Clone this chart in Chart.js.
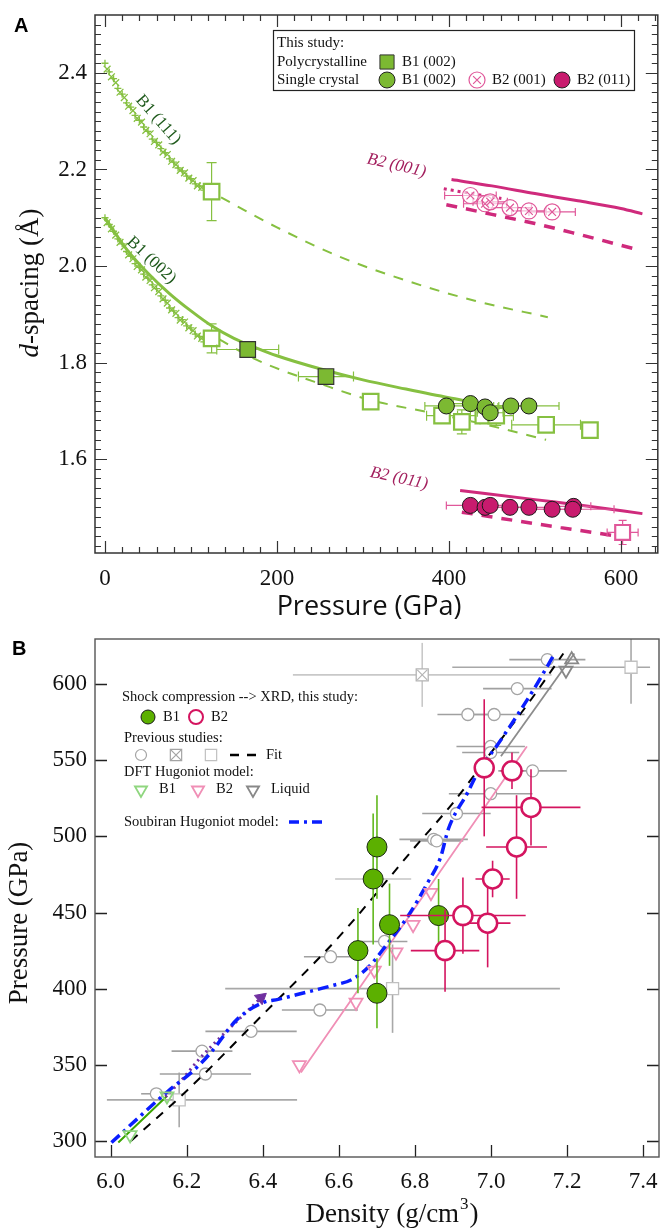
<!DOCTYPE html>
<html>
<head>
<meta charset="utf-8">
<script src="https://cdn.jsdelivr.net/npm/chart.js@4.4.1/dist/chart.umd.min.js"></script>
<style>
  body { margin: 0; background: #fff; width: 671px; height: 1231px; position: relative; overflow: hidden; }
  canvas { position: absolute; left: 0; }
  #chartA { top: 0; }
  #chartB { top: 620px; }
</style>
</head>
<body>
<canvas id="chartA" width="671" height="620"></canvas>
<canvas id="chartB" width="671" height="611"></canvas>
<script>
const SERIF = '"Liberation Serif", "Times New Roman", serif';
const SANS = '"Open Sans", "Liberation Sans", sans-serif';

// ================= Panel A: d-spacing vs pressure =================
const pTicksA = [0, 200, 400, 600];
const dTicksA = [1.6, 1.8, 2.0, 2.2, 2.4];

// B1 (111) crosses
const b111PlusP = [0, 5, 10, 15, 20, 25, 30, 35, 40, 45, 50, 55, 60, 65, 70, 75, 80, 85, 90, 95, 100, 105, 110, 115];
const b111PlusD = [2.420, 2.402, 2.388, 2.368, 2.356, 2.338, 2.329, 2.312, 2.302, 2.288, 2.279, 2.263, 2.256, 2.243, 2.235, 2.222, 2.215, 2.203, 2.197, 2.186, 2.181, 2.170, 2.166, 2.157];
const b111RotP = [2.5, 7.5, 12.5, 17.5, 22.5, 27.5, 32.5, 37.5, 42.5, 47.5, 52.5, 57.5, 62.5, 67.5, 72.5, 77.5, 82.5, 87.5, 92.5, 97.5, 102.5, 107.5, 112.5];
const b111RotD = [2.408, 2.392, 2.380, 2.360, 2.349, 2.331, 2.322, 2.306, 2.298, 2.281, 2.274, 2.258, 2.251, 2.236, 2.231, 2.217, 2.210, 2.198, 2.193, 2.182, 2.177, 2.166, 2.163];
// B1 (002) crosses
const b002PlusP = [0, 5, 10, 15, 20, 25, 30, 35, 40, 45, 50, 55, 60, 65, 70, 75, 80, 85, 90, 95, 100, 105, 110, 115];
const b002PlusD = [2.100, 2.086, 2.072, 2.056, 2.046, 2.030, 2.020, 2.005, 1.997, 1.983, 1.975, 1.961, 1.953, 1.938, 1.929, 1.913, 1.907, 1.893, 1.889, 1.876, 1.872, 1.859, 1.854, 1.843];
const b002RotP = [2.5, 7.5, 12.5, 17.5, 22.5, 27.5, 32.5, 37.5, 42.5, 47.5, 52.5, 57.5, 62.5, 67.5, 72.5, 77.5, 82.5, 87.5, 92.5, 97.5, 102.5, 107.5, 112.5];
const b002RotD = [2.090, 2.077, 2.064, 2.049, 2.040, 2.023, 2.015, 1.999, 1.992, 1.977, 1.970, 1.955, 1.947, 1.932, 1.923, 1.909, 1.902, 1.888, 1.884, 1.872, 1.866, 1.855, 1.850];

// fitted curves
const b111DashP = [135, 200, 272, 350, 430, 515];
const b111DashD = [2.142, 2.080, 2.020, 1.970, 1.928, 1.894];
const b002SolidP = [0, 25, 50, 75, 100, 125, 150, 175, 200, 250, 300, 350, 400, 425];
const b002SolidD = [2.100, 2.035, 1.985, 1.943, 1.907, 1.875, 1.850, 1.831, 1.814, 1.787, 1.764, 1.745, 1.727, 1.719];
const b002DashP = [133, 176, 260, 307, 373, 434, 513];
const b002DashD = [1.848, 1.806, 1.750, 1.723, 1.698, 1.675, 1.640];
const b2001SolidP = [403, 450, 500, 550, 600, 625];
const b2001SolidD = [2.179, 2.166, 2.150, 2.135, 2.119, 2.108];
const b2001DashP = [397, 450, 500, 550, 617];
const b2001DashD = [2.127, 2.107, 2.088, 2.066, 2.035];
const b2001DotP = [394, 420, 461];
const b2001DotD = [2.160, 2.152, 2.140];
const b2011SolidP = [413, 500, 560, 625];
const b2011SolidD = [1.535, 1.516, 1.503, 1.487];
const b2011DashP = [415, 454, 530, 616];
const b2011DashD = [1.490, 1.479, 1.458, 1.435];

// polycrystalline B1 (002), this study
const polyP = [166, 257];
const polyD = [1.827, 1.771];
const polyPErr = [36, 32];
// open squares (B1)
const openSqP = [124, 124, 309, 392, 415, 440, 455, 513, 564];
const openSqD = [2.154, 1.850, 1.719, 1.690, 1.677, 1.690, 1.690, 1.671, 1.660];
const openSqPErr = [0, 0, 0, 18, 0, 15, 20, 40, 0];
const openSqDErr = [0.06, 0.03, 0, 0, 0.025, 0, 0.02, 0, 0];
// single crystal B1 (002)
const scB1P = [397, 425, 442, 448, 472, 493];
const scB1D = [1.710, 1.715, 1.708, 1.696, 1.710, 1.710];
const scB1PErr = [25, 20, 15, 15, 20, 35];
// single crystal B2 (001)
const scB2aP = [425, 442, 448, 471, 493, 520];
const scB2aD = [2.146, 2.129, 2.133, 2.121, 2.114, 2.112];
const scB2aPErr = [30, 25, 20, 25, 20, 27];
// single crystal B2 (011)
const scB2bP = [425, 442, 448, 471, 493, 520, 545, 544];
const scB2bD = [1.504, 1.500, 1.504, 1.500, 1.500, 1.496, 1.502, 1.496];
const scB2bPErr = [28, 20, 20, 20, 20, 20, 20, 48];
// open square B2
const b2SqP = [602];
const b2SqD = [1.448];
const b2SqPErr = [18];
const b2SqDErr = [0.025];

// ================= Panel B: Hugoniot =================
const rhoTicksB = [6.0, 6.2, 6.4, 6.6, 6.8, 7.0, 7.2, 7.4];
const pTicksB = [300, 350, 400, 450, 500, 550, 600];

const thisB1Rho = [6.700, 6.690, 6.733, 6.650, 6.700, 6.862];
const thisB1P = [493, 472, 442, 425, 397, 448];
const thisB1RhoErr = [0, 0.10, 0.028, 0, 0, 0];
const thisB1PErr = [34, 43, 27, 28, 23, 24];

const thisB2Rho = [6.982, 7.055, 7.105, 7.067, 7.004, 6.926, 6.991, 6.879];
const thisB2P = [545, 543, 519, 493, 472, 448, 443, 425];
const thisB2RhoErr = [0, 0.03, 0.13, 0.08, 0.045, 0.165, 0.06, 0.09];
const thisB2PErr = [45, 12, 25, 34, 12, 25, 29, 27];

const prevRho = [7.148, 7.069, 6.939, 7.008, 6.999, 6.999, 7.109, 6.999, 6.909, 6.849, 6.857, 6.720, 6.578, 6.550, 6.369, 6.240, 6.249, 6.120];
const prevP = [616, 597, 580, 580, 559, 555, 543, 528, 515, 498, 497, 431, 421, 386, 372, 359, 344, 331];
const prevRhoErr = [0.10, 0.09, 0.08, 0.08, 0.09, 0.075, 0.09, 0.11, 0.09, 0.09, 0.07, 0.06, 0.07, 0.10, 0.12, 0.08, 0.12, 0.04];

const prevXSqRho = [6.819];
const prevXSqP = [606];
const prevXSqRhoErr = [0.34];
const prevXSqPErr = [21];

const prevSqRho = [7.368, 6.741, 6.180];
const prevSqP = [611, 400, 327];
const prevSqRhoErr = [[0.47, 0.05], 0.44, [0.19, 0.31]];
const prevSqPErr = [24, 29, 18];

const fitRho = [6.053, 6.2, 6.4, 6.6, 6.8, 6.9, 7.0, 7.1, 7.19];
const fitP = [300, 333, 383, 434, 493, 522, 555, 588, 620];

const soubRho = [6.002, 6.152, 6.221, 6.263, 6.333, 6.402, 6.44, 6.488, 6.582, 6.634, 6.677, 6.729, 6.78, 6.832, 6.867, 6.888, 6.939, 6.961, 7.025, 7.111, 7.165];
const soubP = [299, 333, 347, 358, 380, 391, 393, 396, 402, 406, 414, 430, 447, 469, 486, 505, 529, 540, 563, 596, 619];

const purpRho = [6.144, 6.19, 6.23, 6.30, 6.35, 6.395];
const purpP = [329, 341, 353, 371, 383, 394];

const dftB1LineRho = [6.02, 6.148];
const dftB1LineP = [299, 329.5];
const dftB1Rho = [6.051, 6.148];
const dftB1P = [304, 329.5];

const dftB2LineRho = [6.50, 7.094];
const dftB2LineP = [345, 559];
const dftB2Rho = [6.496, 6.645, 6.693, 6.750, 6.795, 6.842];
const dftB2P = [350, 391, 412, 424, 442, 463];

const liqLineRho = [7.026, 7.219];
const liqLineP = [552.6, 620];
const liqRho = [7.197, 7.212];
const liqP = [609, 616];

// ================= helpers =================
const pts = (xs, ys) => xs.map((v, i) => ({ x: v, y: ys[i] }));
const range = (a, b, s) => { const r = []; for (let v = a; v <= b + 1e-9; v += s) r.push(+v.toFixed(4)); return r; };

function curve(xs, ys, color, width, dash, extra) {
  return Object.assign({
    data: pts(xs, ys), showLine: true, borderColor: color, borderWidth: width,
    borderDash: dash || [], pointRadius: 0, pointHoverRadius: 0, fill: false,
    tension: 0.4, cubicInterpolationMode: 'monotone'
  }, extra || {});
}
function marks(xs, ys, style, r, fill, stroke, bw, extra) {
  return Object.assign({
    data: pts(xs, ys), showLine: false, pointStyle: style, pointRadius: r, pointHoverRadius: r,
    pointBackgroundColor: fill, pointBorderColor: stroke, pointBorderWidth: bw,
    pointHoverBackgroundColor: fill, pointHoverBorderColor: stroke, pointHoverBorderWidth: bw
  }, extra || {});
}

// error bars drawn under each dataset's own markers
const errorBars = {
  id: 'errorBars',
  beforeDatasetDraw(chart, args) {
    const ds = chart.data.datasets[args.index];
    if (!ds.errX && !ds.errY) return;
    const { ctx, chartArea: a, scales: { x, y } } = chart;
    const cap = ds.errCap || 0;
    ctx.save();
    ctx.beginPath(); ctx.rect(a.left, a.top, a.width, a.height); ctx.clip();
    ctx.lineWidth = ds.errWidth || 1.2;
    ds.data.forEach((p, i) => {
      const px = x.getPixelForValue(p.x), py = y.getPixelForValue(p.y);
      const ex = ds.errX && ds.errX[i], ey = ds.errY && ds.errY[i];
      if (ex) {
        const [lo, hi] = Array.isArray(ex) ? ex : [ex, ex];
        const x0 = x.getPixelForValue(p.x - lo), x1 = x.getPixelForValue(p.x + hi);
        ctx.strokeStyle = ds.errXColor || ds.errColor;
        ctx.beginPath();
        ctx.moveTo(x0, py); ctx.lineTo(x1, py);
        if (cap) { ctx.moveTo(x0, py - cap); ctx.lineTo(x0, py + cap); ctx.moveTo(x1, py - cap); ctx.lineTo(x1, py + cap); }
        ctx.stroke();
      }
      if (ey) {
        const [lo, hi] = Array.isArray(ey) ? ey : [ey, ey];
        const y0 = y.getPixelForValue(p.y - lo), y1 = y.getPixelForValue(p.y + hi);
        ctx.strokeStyle = ds.errYColor || ds.errColor;
        ctx.beginPath();
        ctx.moveTo(px, y0); ctx.lineTo(px, y1);
        if (cap) { ctx.moveTo(px - cap, y0); ctx.lineTo(px + cap, y0); ctx.moveTo(px - cap, y1); ctx.lineTo(px + cap, y1); }
        ctx.stroke();
      }
    });
    ctx.restore();
  }
};

// inward tick marks + frame
const inTicks = {
  id: 'inTicks',
  afterDatasetsDraw(chart, args, o) {
    const { ctx, chartArea: a, scales: { x, y } } = chart;
    ctx.save();
    ctx.strokeStyle = o.color; ctx.lineWidth = o.width;
    ctx.beginPath();
    const xt = (list, len) => list.forEach(v => {
      const px = Math.round(x.getPixelForValue(v)) + 0.5;
      if (px < a.left + 1 || px > a.right - 1) return;
      ctx.moveTo(px, a.bottom); ctx.lineTo(px, a.bottom - len);
      if (o.top) { ctx.moveTo(px, a.top); ctx.lineTo(px, a.top + len); }
    });
    const yt = (list, len) => list.forEach(v => {
      const py = Math.round(y.getPixelForValue(v)) + 0.5;
      if (py < a.top + 1 || py > a.bottom - 1) return;
      ctx.moveTo(a.left, py); ctx.lineTo(a.left + len, py);
      if (o.right) { ctx.moveTo(a.right, py); ctx.lineTo(a.right - len, py); }
    });
    xt(o.xMajor, o.majorLen); xt(o.xMinor, o.minorLen);
    yt(o.yMajor, o.majorLen); yt(o.yMinor, o.minorLen);
    ctx.stroke();
    ctx.lineWidth = o.frameWidth;
    ctx.strokeStyle = o.frameColor;
    ctx.strokeRect(a.left, a.top, a.width, a.height);
    ctx.restore();
  }
};

function sym(ctx, style, r, fill, stroke, bw, x, y, rot) {
  ctx.save();
  ctx.fillStyle = fill; ctx.strokeStyle = stroke; ctx.lineWidth = bw;
  Chart.helpers.drawPoint(ctx, { pointStyle: style, radius: r, rotation: rot || 0, borderWidth: bw }, x, y);
  ctx.restore();
}
function text(ctx, s, x, y, font, color, align) {
  ctx.font = font; ctx.fillStyle = color || '#111';
  ctx.textAlign = align || 'left'; ctx.textBaseline = 'middle';
  ctx.fillText(s, x, y);
}

// ================= colours =================
const GREEN = '#86c041';
const GREEN_DARK = '#1f5a1c';
const MAG = '#cf2a7c';
const MAG_TEXT = '#a3205e';
const MAG_LIGHT = '#e0589a';

// ================= Panel A chart =================
const curveLabelsA = [
  { text: 'B1 (111)', p: 62, d: 2.303, angle: 49, font: '17px ' + SERIF, color: GREEN_DARK },
  { text: 'B1 (002)', p: 54, d: 2.012, angle: 43, font: '17px ' + SERIF, color: GREEN_DARK },
  { text: 'B2 (001)', p: 339, d: 2.208, angle: 13, font: 'italic 17px ' + SERIF, color: MAG_TEXT },
  { text: 'B2 (011)', p: 342, d: 1.560, angle: 12, font: 'italic 17px ' + SERIF, color: MAG_TEXT }
];

const annotA = {
  id: 'annotA',
  afterDraw(chart) {
    const { ctx, scales: { x, y } } = chart;
    ctx.save();
    curveLabelsA.forEach(l => {
      ctx.save();
      ctx.translate(x.getPixelForValue(l.p), y.getPixelForValue(l.d));
      ctx.rotate(l.angle * Math.PI / 180);
      text(ctx, l.text, 0, 0, l.font, l.color, 'center');
      ctx.restore();
    });
    // legend box
    ctx.lineWidth = 1.2; ctx.strokeStyle = '#222';
    ctx.strokeRect(273.5, 30.5, 361, 60);
    const f = '15px ' + SERIF;
    text(ctx, 'This study:', 277, 43, f);
    text(ctx, 'Polycrystalline', 277, 62, f);
    text(ctx, 'Single crystal', 277, 80, f);
    sym(ctx, 'rect', 10, '#7cb932', '#333', 1, 387, 62);
    text(ctx, 'B1 (002)', 402, 62, f);
    sym(ctx, 'circle', 8, '#7cb932', '#222', 1, 387, 80);
    text(ctx, 'B1 (002)', 402, 80, f);
    sym(ctx, 'circle', 8, 'rgba(0,0,0,0)', MAG_LIGHT, 1.2, 477, 80);
    sym(ctx, 'crossRot', 5.5, 'rgba(0,0,0,0)', MAG_LIGHT, 1.2, 477, 80);
    text(ctx, 'B2 (001)', 492, 80, f);
    sym(ctx, 'circle', 8, '#c81b6e', '#222', 1, 562, 80);
    text(ctx, 'B2 (011)', 577, 80, f);
    // axis titles
    text(ctx, 'Pressure (GPa)', 369, 607, '27px ' + SANS, '#111', 'center');
    ctx.save();
    ctx.translate(38, 283);
    ctx.rotate(-Math.PI / 2);
    ctx.textBaseline = 'alphabetic';
    ctx.font = 'italic 27px ' + SERIF;
    const wd = ctx.measureText('d').width;
    ctx.font = '27px ' + SERIF;
    const wr = ctx.measureText('-spacing (Å)').width;
    const x0 = -(wd + wr) / 2;
    ctx.fillStyle = '#111'; ctx.textAlign = 'left';
    ctx.font = 'italic 27px ' + SERIF; ctx.fillText('d', x0, 0);
    ctx.font = '27px ' + SERIF; ctx.fillText('-spacing (Å)', x0 + wd, 0);
    ctx.restore();
    ctx.font = 'bold 20px "Liberation Sans", Arial, sans-serif';
    ctx.fillStyle = '#000'; ctx.textAlign = 'left'; ctx.textBaseline = 'alphabetic';
    ctx.fillText('A', 14, 32);
    ctx.restore();
  }
};

const tickFont = { family: SERIF, size: 23 };

new Chart(document.getElementById('chartA'), {
  type: 'scatter',
  data: {
    datasets: [
      marks(scB2bP, scB2bD, 'circle', 8, '#c81b6e', '#1a1a1a', 1,
        { errX: scB2bPErr, errColor: MAG_LIGHT, errCap: 4 }),
      marks(scB2aP, scB2aD, 'crossRot', 5.5, 'rgba(0,0,0,0)', MAG_LIGHT, 1.2),
      marks(scB2aP, scB2aD, 'circle', 8, 'rgba(255,255,255,0.6)', MAG_LIGHT, 1.2,
        { errX: scB2aPErr, errColor: MAG_LIGHT, errCap: 4 }),
      marks(b2SqP, b2SqD, 'rect', 10.5, '#fff', MAG_LIGHT, 2.2,
        { errX: b2SqPErr, errY: b2SqDErr, errColor: MAG_LIGHT, errCap: 4 }),
      marks(scB1P, scB1D, 'circle', 8, '#7cb932', '#1a1a1a', 1,
        { errX: scB1PErr, errColor: GREEN, errCap: 4 }),
      marks(polyP, polyD, 'rect', 11, '#7cb932', '#333', 1.2,
        { errX: polyPErr, errColor: GREEN, errCap: 5 }),
      marks(openSqP, openSqD, 'rect', 11, '#fff', GREEN, 2.2,
        { errX: openSqPErr, errY: openSqDErr, errColor: GREEN, errCap: 5 }),
      marks(b111PlusP, b111PlusD, 'cross', 3.5, GREEN, GREEN, 1.3),
      marks(b111RotP, b111RotD, 'crossRot', 4.8, GREEN, GREEN, 1.3),
      marks(b002PlusP, b002PlusD, 'cross', 3.5, GREEN, GREEN, 1.3),
      marks(b002RotP, b002RotD, 'crossRot', 4.8, GREEN, GREEN, 1.3),
      curve(b2011SolidP, b2011SolidD, MAG, 3),
      curve(b2011DashP, b2011DashD, MAG, 3.5, [11, 9]),
      curve(b2001SolidP, b2001SolidD, MAG, 3),
      curve(b2001DashP, b2001DashD, MAG, 3.5, [11, 9]),
      curve(b2001DotP, b2001DotD, MAG, 3, [3, 4]),
      curve(b002SolidP, b002SolidD, GREEN, 3),
      curve(b002DashP, b002DashD, GREEN, 2, [10, 9]),
      curve(b111DashP, b111DashD, GREEN, 2, [10, 9])
    ]
  },
  options: {
    responsive: false,
    animation: false,
    events: [],
    layout: { padding: { top: 15, right: 11, left: 0, bottom: 0 } },
    plugins: {
      legend: { display: false },
      tooltip: { enabled: false },
      inTicks: {
        xMajor: pTicksA, xMinor: range(20, 640, 20), yMajor: dTicksA, yMinor: range(1.42, 2.52, 0.02),
        majorLen: 12, minorLen: 6, top: true, right: true, color: '#333', width: 1.2,
        frameColor: '#333', frameWidth: 1.5
      }
    },
    scales: {
      x: {
        type: 'linear', min: -11.6, max: 642.9,
        grid: { display: false }, border: { display: false },
        ticks: { font: tickFont, color: '#111', padding: 4, maxRotation: 0, callback: v => String(v) },
        afterBuildTicks: s => { s.ticks = pTicksA.map(v => ({ value: v })); },
        afterFit: s => { s.height = 67; }
      },
      y: {
        type: 'linear', min: 1.4054, max: 2.52,
        grid: { display: false }, border: { display: false },
        ticks: { font: tickFont, color: '#111', padding: 0, callback: v => v.toFixed(1) },
        afterBuildTicks: s => { s.ticks = dTicksA.map(v => ({ value: v })); },
        afterFit: s => { s.width = 95; }
      }
    }
  },
  plugins: [errorBars, inTicks, annotA]
});

// ================= Panel B chart =================
const BLUE = '#0a1eff';
const PURPLE = '#7030a0';
const PINK = '#f08fb6';
const TGREEN = '#8fd67f';
const LGREEN = '#3ba500';
const SHOCK_GREEN = '#5cb000';
const SHOCK_MAG = '#d4145f';
const GREY = '#a4a4a4';

const annotB = {
  id: 'annotB',
  afterDraw(chart) {
    const { ctx } = chart;
    ctx.save();
    const f = '14.5px ' + SERIF;
    text(ctx, 'Shock compression --> XRD, this study:', 122, 77, f);
    sym(ctx, 'circle', 7, SHOCK_GREEN, '#1a1a1a', 1, 148, 97);
    text(ctx, 'B1', 163, 97, f);
    sym(ctx, 'circle', 7, '#fff', SHOCK_MAG, 2, 196, 97);
    text(ctx, 'B2', 211, 97, f);
    text(ctx, 'Previous studies:', 124, 118, f);
    sym(ctx, 'circle', 5.5, '#fff', GREY, 1.2, 141, 135);
    sym(ctx, 'rect', 8, '#fff', GREY, 1.2, 176, 135);
    sym(ctx, 'crossRot', 7, '#fff', GREY, 1.2, 176, 135);
    sym(ctx, 'rect', 8, '#fff', '#c0c0c0', 1.2, 211, 135);
    ctx.strokeStyle = '#000'; ctx.lineWidth = 2.5; ctx.setLineDash([9, 8]);
    ctx.beginPath(); ctx.moveTo(230, 135); ctx.lineTo(256, 135); ctx.stroke();
    text(ctx, 'Fit', 266, 135, f);
    text(ctx, 'DFT Hugoniot model:', 124, 152, f);
    ctx.setLineDash([]);
    sym(ctx, 'triangle', 7, 'rgba(0,0,0,0)', TGREEN, 1.8, 141, 170, 180);
    text(ctx, 'B1', 159, 169, f);
    sym(ctx, 'triangle', 7, 'rgba(0,0,0,0)', PINK, 1.8, 198, 170, 180);
    text(ctx, 'B2', 216, 169, f);
    sym(ctx, 'triangle', 7, 'rgba(0,0,0,0)', '#888', 1.8, 253, 170, 180);
    text(ctx, 'Liquid', 271, 169, f);
    text(ctx, 'Soubiran Hugoniot model:', 124, 202, f);
    ctx.strokeStyle = BLUE; ctx.lineWidth = 3.5; ctx.setLineDash([10, 5, 3, 5]);
    ctx.beginPath(); ctx.moveTo(289, 202); ctx.lineTo(322, 202); ctx.stroke();
    ctx.setLineDash([]);
    // axis titles
    const tf = '27px ' + SERIF;
    ctx.save();
    ctx.translate(27, 303);
    ctx.rotate(-Math.PI / 2);
    ctx.font = tf; ctx.fillStyle = '#111'; ctx.textAlign = 'center'; ctx.textBaseline = 'alphabetic';
    ctx.fillText('Pressure (GPa)', 0, 0);
    ctx.restore();
    ctx.font = tf;
    const w1 = ctx.measureText('Density (g/cm').width;
    const w3 = ctx.measureText(')').width;
    ctx.font = '17px ' + SERIF;
    const w2 = ctx.measureText('3').width;
    const x0 = 391 - (w1 + w2 + w3) / 2;
    ctx.fillStyle = '#111'; ctx.textAlign = 'left'; ctx.textBaseline = 'alphabetic';
    ctx.font = tf; ctx.fillText('Density (g/cm', x0, 602);
    ctx.font = '17px ' + SERIF; ctx.fillText('3', x0 + w1 + 1, 589);
    ctx.font = tf; ctx.fillText(')', x0 + w1 + w2 + 2, 602);
    ctx.font = 'bold 20px "Liberation Sans", Arial, sans-serif';
    ctx.fillStyle = '#000';
    ctx.fillText('B', 12, 35);
    ctx.restore();
  }
};

new Chart(document.getElementById('chartB'), {
  type: 'scatter',
  data: {
    datasets: [
      marks(thisB2Rho, thisB2P, 'circle', 9.5, '#fff', SHOCK_MAG, 2.5,
        { errX: thisB2RhoErr, errY: thisB2PErr, errColor: SHOCK_MAG, errWidth: 1.6 }),
      marks(thisB1Rho, thisB1P, 'circle', 10, SHOCK_GREEN, '#1a2a10', 1,
        { errX: thisB1RhoErr, errY: thisB1PErr, errColor: '#62b81e', errXColor: '#c4c4c4', errWidth: 1.6 }),
      marks(dftB2Rho, dftB2P, 'triangle', 7.5, 'rgba(0,0,0,0)', PINK, 1.8, { pointRotation: 180 }),
      marks(dftB1Rho, dftB1P, 'triangle', 7.5, 'rgba(0,0,0,0)', TGREEN, 1.8, { pointRotation: 180 }),
      marks(liqRho, liqP, 'triangle', 7.5, 'rgba(0,0,0,0)', '#888', 1.8, { pointRotation: [180, 0] }),
      curve(soubRho, soubP, BLUE, 3.5, [11, 5, 3, 5], { tension: 0 }),
      curve(purpRho, purpP, PURPLE, 3, [2, 4], {
        tension: 0,
        pointRadius: purpP.map((v, i) => i === purpP.length - 1 ? 7 : 0),
        pointStyle: 'triangle', pointRotation: 50,
        pointBackgroundColor: PURPLE, pointBorderColor: PURPLE, pointBorderWidth: 1
      }),
      curve(fitRho, fitP, '#000', 2, [9, 8]),
      curve(dftB2LineRho, dftB2LineP, PINK, 1.8, [], { tension: 0 }),
      curve(dftB1LineRho, dftB1LineP, LGREEN, 2, [], { tension: 0 }),
      curve(liqLineRho, liqLineP, '#8c8c8c', 1.8, [], { tension: 0 }),
      marks(prevRho, prevP, 'circle', 6, '#fff', GREY, 1.3,
        { errX: prevRhoErr, errColor: '#a0a0a0', errWidth: 1.6 }),
      marks(prevXSqRho, prevXSqP, 'crossRot', 7, '#fff', '#b4b4b4', 1.2),
      marks(prevXSqRho, prevXSqP, 'rect', 8.5, '#fff', '#b4b4b4', 1.3,
        { errX: prevXSqRhoErr, errY: prevXSqPErr, errColor: '#c8c8c8', errWidth: 1.6 }),
      marks(prevSqRho, prevSqP, 'rect', 8.5, '#fff', '#c0c0c0', 1.3,
        { errX: prevSqRhoErr, errY: prevSqPErr, errColor: '#a8a8a8', errWidth: 1.6 })
    ]
  },
  options: {
    responsive: false,
    animation: false,
    events: [],
    layout: { padding: { top: 19, right: 2, left: 0, bottom: 0 } },
    plugins: {
      legend: { display: false },
      tooltip: { enabled: false },
      inTicks: {
        xMajor: rhoTicksB, xMinor: [], yMajor: pTicksB, yMinor: [],
        majorLen: 12, minorLen: 0, top: false, right: true, color: '#222', width: 1.3,
        frameColor: '#555', frameWidth: 1.4
      }
    },
    scales: {
      x: {
        type: 'linear', min: 5.9587, max: 7.4415,
        grid: { display: false }, border: { display: false },
        ticks: { font: tickFont, color: '#111', padding: 3, maxRotation: 0, callback: v => v.toFixed(1) },
        afterBuildTicks: s => { s.ticks = rhoTicksB.map(v => ({ value: v })); },
        afterFit: s => { s.height = 74; }
      },
      y: {
        type: 'linear', min: 289.5, max: 629.55,
        grid: { display: false }, border: { display: false },
        ticks: { font: tickFont, color: '#111', padding: 0, callback: v => String(v) },
        afterBuildTicks: s => { s.ticks = pTicksB.map(v => ({ value: v })); },
        afterFit: s => { s.width = 95; }
      }
    }
  },
  plugins: [errorBars, inTicks, annotB]
});
</script>
</body>
</html>
